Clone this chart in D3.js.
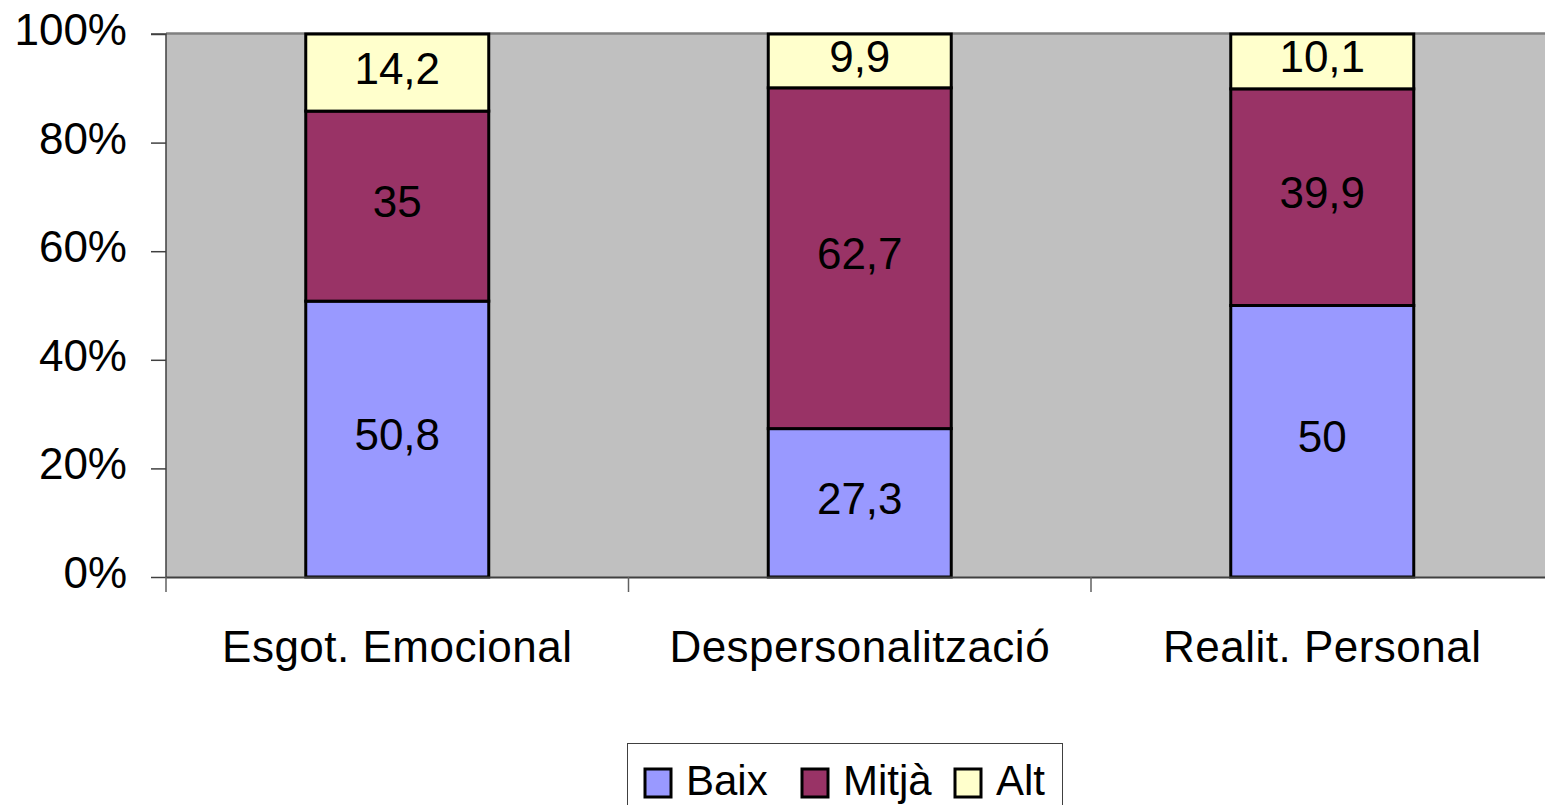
<!DOCTYPE html>
<html><head><meta charset="utf-8">
<script src="https://cdn.jsdelivr.net/npm/d3@7"></script>
<style>body{margin:0;background:#fff;}svg{display:block;font-family:"Liberation Sans",Arial,sans-serif;}</style>
</head><body>
<svg id="c" width="1545" height="805"></svg>
<script>
const categories = ["Esgot. Emocional", "Despersonalització", "Realit. Personal"];
const seriesNames = ["Baix", "Mitjà", "Alt"];
const baix = [50.8, 27.3, 50];
const mitja = [35, 62.7, 39.9];
const alt = [14.2, 9.9, 10.1];
const colors = ["#9999FF", "#993366", "#FFFFCC"];
const yTicks = [0, 0.2, 0.4, 0.6, 0.8, 1.0];

(function(){
const svg = d3.select("#c");
const pLeft = 166, pTop = 34, pBottom = 577;
const bandW = 462.5;
const FS = 44;
const x = d3.scaleBand().domain(categories).range([pLeft, pLeft + bandW * categories.length]).paddingInner(0).paddingOuter(0);
const y = d3.scaleLinear().domain([0, 1]).range([pBottom, pTop]);

svg.append("rect").attr("x", pLeft).attr("y", pTop).attr("width", bandW * 3).attr("height", pBottom - pTop).attr("fill", "#C0C0C0");
svg.append("line").attr("x1", pLeft).attr("x2", 1545).attr("y1", pTop - 0.5).attr("y2", pTop - 0.5).attr("stroke", "#808080").attr("stroke-width", 2.5);

const data = categories.map((c, i) => ({cat: c, Baix: baix[i], "Mitjà": mitja[i], Alt: alt[i]}));
const stack = d3.stack().keys(seriesNames).offset(d3.stackOffsetExpand);
const layers = stack(data);

const barW = 183;
layers.forEach((layer, li) => {
  const g = svg.append("g");
  layer.forEach((d, i) => {
    const cx = x(categories[i]) + bandW / 2;
    const y0 = y(d[0]), y1 = y(d[1]);
    g.append("rect").attr("x", cx - barW / 2).attr("y", y1).attr("width", barW).attr("height", y0 - y1)
      .attr("fill", colors[li]).attr("stroke", "#000").attr("stroke-width", 3);
    const val = d.data[seriesNames[li]];
    g.append("text").attr("x", cx).attr("y", (y0 + y1) / 2).attr("dy", "0.25em").attr("text-anchor", "middle")
      .attr("font-size", FS).attr("fill", "#000").text(String(val).replace(".", ","));
  });
});

const yAxis = d3.axisLeft(y).tickValues(yTicks).tickFormat(d3.format(".0%")).tickSize(15).tickPadding(24);
const ga = svg.append("g").attr("transform", `translate(${pLeft},0)`).call(yAxis);
ga.select(".domain").attr("stroke", "#404040").attr("stroke-width", 1.5).attr("d", `M-15,${pTop}H0V${pBottom + 1}`);
ga.selectAll(".tick line").attr("stroke", "#404040").attr("stroke-width", 1.5);
ga.selectAll(".tick text").attr("font-size", FS).attr("dy", "0.24em").attr("fill", "#000").attr("font-family", "Liberation Sans, Arial, sans-serif");

const gx = svg.append("g").attr("transform", `translate(0,${pBottom})`);
gx.append("line").attr("x1", pLeft).attr("x2", 1545).attr("y1", 0.5).attr("y2", 0.5).attr("stroke", "#404040").attr("stroke-width", 2);
[0, 1, 2].forEach(i => {
  gx.append("line").attr("x1", pLeft + bandW * i).attr("x2", pLeft + bandW * i).attr("y1", 0).attr("y2", 15).attr("stroke", "#606060").attr("stroke-width", 1.5);
});
categories.forEach(c => {
  gx.append("text").attr("x", x(c) + bandW / 2).attr("y", 85).attr("text-anchor", "middle").attr("font-size", FS)
    .attr("letter-spacing", 0.5).attr("fill", "#000").text(c);
});

const lg = svg.append("g");
lg.append("rect").attr("x", 627.5).attr("y", 743.5).attr("width", 435).attr("height", 80).attr("fill", "#fff").attr("stroke", "#404040").attr("stroke-width", 1);
const legX = [645, 802, 955];
seriesNames.forEach((s, i) => {
  lg.append("rect").attr("x", legX[i]).attr("y", 769).attr("width", 26).attr("height", 28).attr("fill", colors[i]).attr("stroke", "#000").attr("stroke-width", 3);
  lg.append("text").attr("x", legX[i] + 41).attr("y", 795).attr("font-size", 42).attr("fill", "#000").text(s);
});
})();
</script>
</body></html>
